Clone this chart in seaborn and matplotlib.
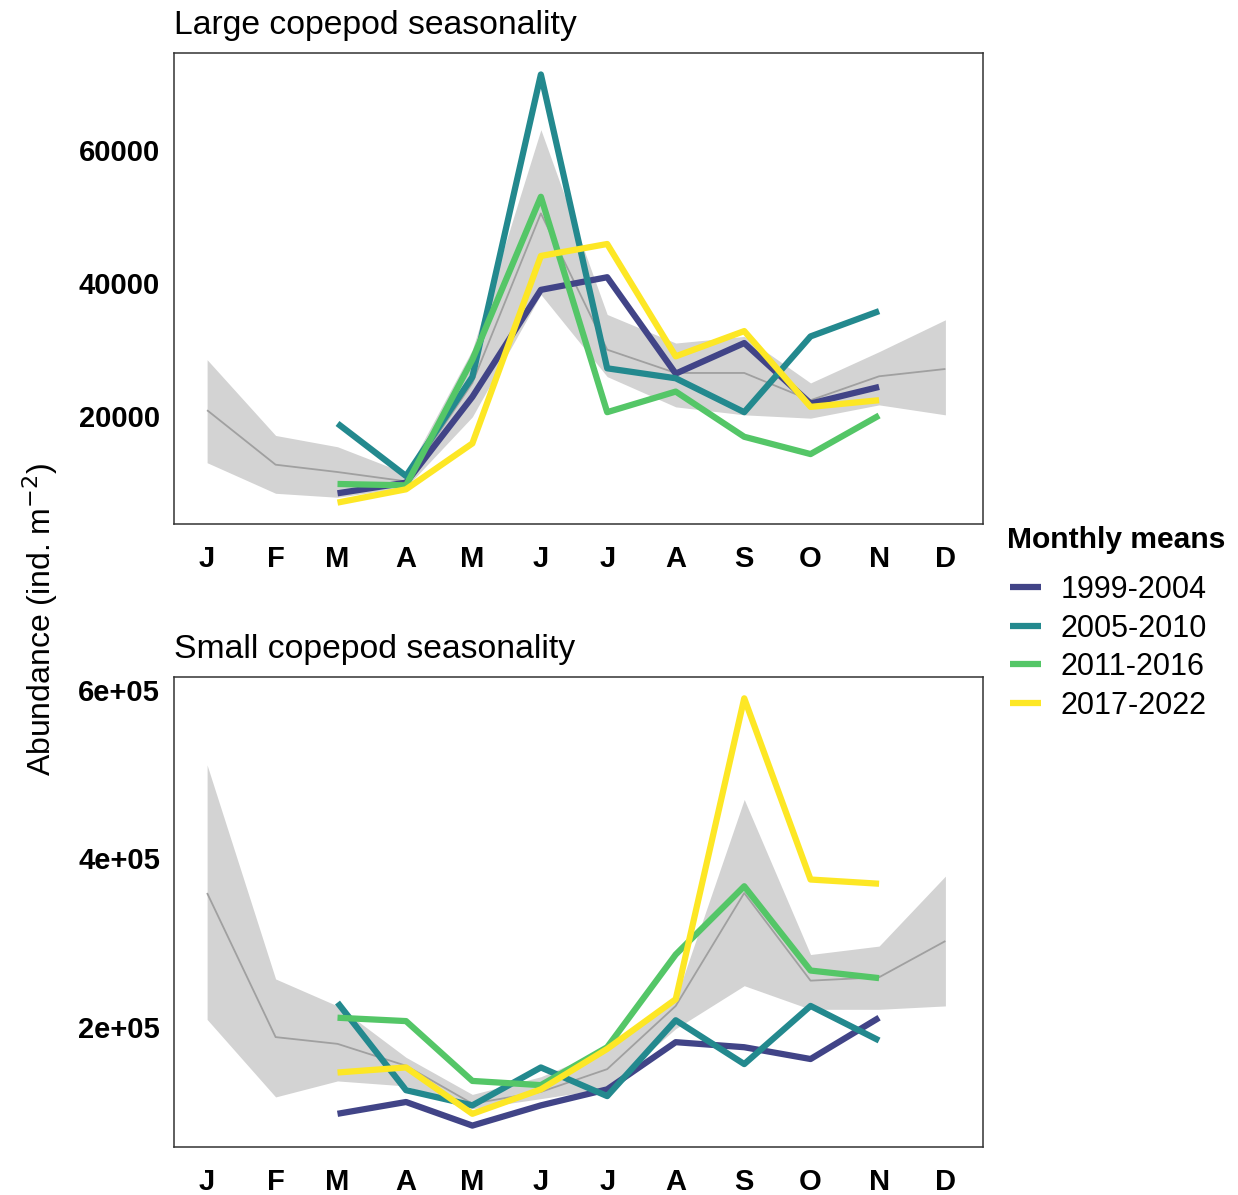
import numpy as np
import pandas as pd
import matplotlib
matplotlib.use("Agg")
import matplotlib.pyplot as plt
import seaborn as sns
from matplotlib.lines import Line2D
from matplotlib.ticker import FixedLocator, FixedFormatter

# ---- month axis (day of year) ----
month_labels = ["J", "F", "M", "A", "M", "J", "J", "A", "S", "O", "N", "D"]
month_start_doy = [1, 32, 60, 91, 121, 152, 182, 213, 244, 274, 305, 335, 366]
month_mid_doy = [15, 46, 74, 105, 135, 166, 196, 227, 258, 288, 319, 349]
sampled_mid_doy = month_mid_doy[2:11]          # March .. November

periods = ["1999-2004", "2005-2010", "2011-2016", "2017-2022"]
period_colors = ["#414487", "#23898E", "#54C667", "#FDE725"]

# ---- Large copepods: long-term climatology (mean and band) ----
large_clim_mean = [20900, 12700, 11600, 10200, 25000, 50500, 30000, 26500, 26500, 22400, 26000, 27100]
large_clim_low = [13000, 8400, 7800, 9300, 19900, 38300, 25950, 21400, 20200, 19700, 21700, 20200]
large_clim_high = [28500, 17100, 15400, 11400, 30000, 63100, 35300, 31000, 32000, 25000, 29700, 34500]

# ---- Large copepods: monthly means per period (Mar-Nov) ----
large_1999_2004 = [8400, 10000, 22900, 39000, 40900, 26400, 31000, 21900, 24400]
large_2005_2010 = [18900, 11000, 25900, 71400, 27200, 25700, 20600, 32000, 35800]
large_2011_2016 = [9800, 9600, 28500, 53000, 20600, 23700, 16900, 14300, 20100]
large_2017_2022 = [7000, 9000, 15900, 44100, 45900, 29000, 32800, 21400, 22400]

# ---- Small copepods: long-term climatology (mean and band) ----
small_clim_mean = [359000, 188000, 180000, 154000, 109000, 123000, 150000, 225000, 359000, 255000, 259000, 302000]
small_clim_low = [209000, 117000, 136000, 130000, 103000, 115000, 127000, 198000, 249000, 221000, 221000, 225000]
small_clim_high = [511000, 257000, 225000, 164000, 120000, 141000, 174000, 233000, 470000, 286000, 296000, 379000]

# ---- Small copepods: monthly means per period (Mar-Nov) ----
small_1999_2004 = [97000, 111000, 83000, 107000, 126000, 182000, 176000, 162000, 211000]
small_2005_2010 = [229000, 125000, 107000, 152000, 118000, 208000, 156000, 225000, 184000]
small_2011_2016 = [211000, 207000, 136000, 131000, 176000, 286000, 367000, 267000, 258000]
small_2017_2022 = [146000, 152000, 97000, 126000, 174000, 233000, 590000, 375000, 370000]


def long_frame(series):
    rows = []
    for name, vals in zip(periods, series):
        for d, v in zip(sampled_mid_doy, vals):
            rows.append({"doy": d, "abundance": v, "period": name})
    return pd.DataFrame(rows)


large_df = long_frame([large_1999_2004, large_2005_2010, large_2011_2016, large_2017_2022])
small_df = long_frame([small_1999_2004, small_2005_2010, small_2011_2016, small_2017_2022])
large_clim = pd.DataFrame({"doy": month_mid_doy, "mean": large_clim_mean,
                           "low": large_clim_low, "high": large_clim_high})
small_clim = pd.DataFrame({"doy": month_mid_doy, "mean": small_clim_mean,
                           "low": small_clim_low, "high": small_clim_high})

sns.set_style("white")
plt.rcParams["font.family"] = ["Liberation Sans", "DejaVu Sans"]
plt.rcParams["text.color"] = "black"

TICK_FS = 21
fig = plt.figure(figsize=(12.38, 11.95), dpi=100)
ax_top = fig.add_axes([0.1405, 0.5615, 0.6535, 0.3941])
ax_bot = fig.add_axes([0.1405, 0.0402, 0.6535, 0.3933])

palette = dict(zip(periods, period_colors))


def draw_panel(ax, clim, df, title, yticks, yticklabels):
    ax.fill_between(clim["doy"], clim["low"], clim["high"], color="#D3D3D3", lw=0, zorder=1)
    sns.lineplot(data=clim, x="doy", y="mean", ax=ax, color="#A0A0A0", lw=1.3,
                 estimator=None, sort=False, zorder=2)
    sns.lineplot(data=df, x="doy", y="abundance", hue="period", palette=palette,
                 ax=ax, lw=4.5, estimator=None, sort=False, legend=False, zorder=3)
    for line in ax.get_lines():
        line.set_solid_capstyle("butt")
        line.set_solid_joinstyle("round")
    ax.set_xlim(0, 366)
    ax.margins(y=0.05)
    ax.set_xlabel("")
    ax.set_ylabel("")
    ax.set_title(title, loc="left", fontsize=24.3, pad=14, color="black")

    # month boundaries as major ticks, month names centred as minor ticks
    ax.xaxis.set_major_locator(FixedLocator(month_start_doy))
    ax.xaxis.set_major_formatter(FixedFormatter([""] * len(month_start_doy)))
    ax.xaxis.set_minor_locator(FixedLocator(month_mid_doy))
    ax.xaxis.set_minor_formatter(FixedFormatter(month_labels))
    ax.tick_params(axis="x", which="major", length=9.5, width=1.2, color="#444444")
    ax.tick_params(axis="x", which="minor", length=2.5, width=1.0, color="#E6E6E6",
                   pad=12.5, labelsize=TICK_FS)
    ax.set_yticks(yticks)
    ax.set_yticklabels(yticklabels)
    ax.tick_params(axis="y", which="major", length=4, width=1.2, color="#444444",
                   pad=6, labelsize=TICK_FS)
    for lab in ax.get_xticklabels(minor=True) + ax.get_yticklabels():
        lab.set_fontweight("bold")
        lab.set_color("black")
    for sp in ax.spines.values():
        sp.set_visible(True)
        sp.set_color("#333333")
        sp.set_linewidth(1.1)


draw_panel(ax_top, large_clim, large_df, "Large copepod seasonality",
           [20000, 40000, 60000], ["20000", "40000", "60000"])
draw_panel(ax_bot, small_clim, small_df, "Small copepod seasonality",
           [200000, 400000, 600000], ["2e+05", "4e+05", "6e+05"])

fig.text(40 / 1238, 1 - 619 / 1195, "Abundance (ind. m$^{-2}$)", rotation=90,
         ha="center", va="center", fontsize=23)

# legend: bold title placed on its own, entries below it
fig.text(1007 / 1238, 1 - 540 / 1195, "Monthly means", fontsize=21.6,
         fontweight="bold", ha="left", va="center")
handles = [Line2D([0], [0], color=c, lw=4.5, solid_capstyle="butt") for c in period_colors]
fig.legend(handles, periods, loc="upper left",
           bbox_to_anchor=(1010 / 1238, 1 - 575 / 1195),
           frameon=False, fontsize=22,
           handlelength=1.0, handletextpad=0.65, labelspacing=0.28,
           borderaxespad=0, borderpad=0)

fig.savefig("out.png", dpi=100)
